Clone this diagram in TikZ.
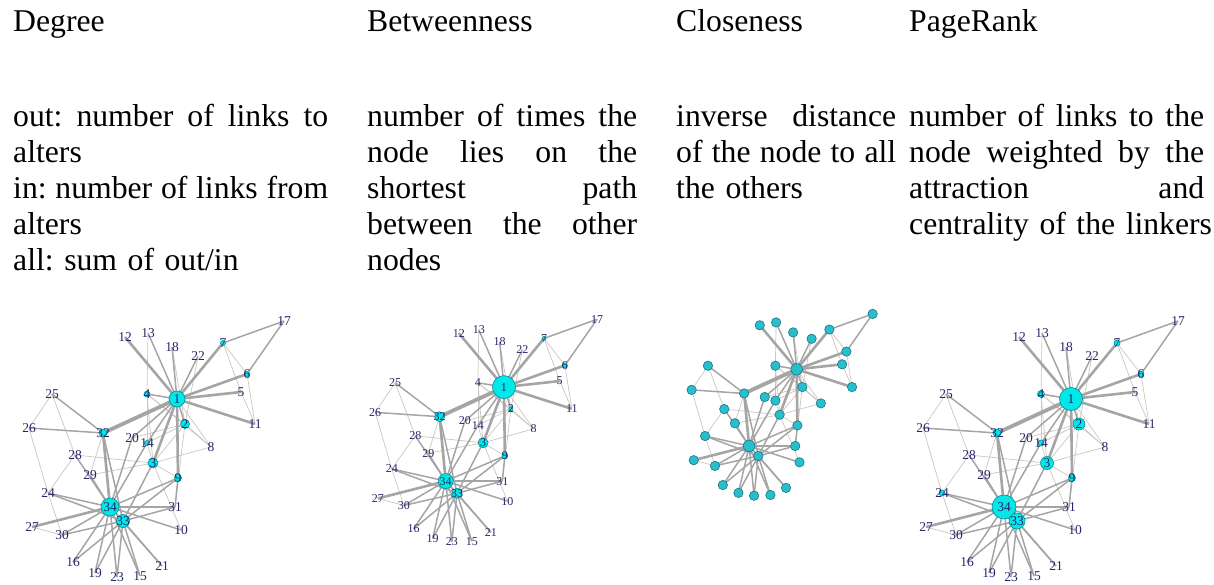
\documentclass[tikz,border=0pt]{standalone}
\usepackage{fontspec}
\setmainfont{Liberation Serif}
\frenchspacing
\hyphenpenalty=10000
\exhyphenpenalty=10000

\definecolor{tiegray}{RGB}{165,165,165}
\definecolor{faintgray}{RGB}{204,198,190}
\definecolor{numblue}{RGB}{38,38,105}
\definecolor{vcyan}{RGB}{0,232,232}
\definecolor{vrim}{RGB}{0,140,150}
\definecolor{ccyan}{RGB}{40,190,204}
\definecolor{crim}{RGB}{22,118,138}

% one justified line of a column, spaces spread to the full width
\newcommand\jl[2]{\leavevmode\hbox to #1{\spaceskip=0.25em plus 1fil\relax #2}}

% karate club layout, 34 members
\newcommand\karate[1]{%
  \coordinate (#1-1) at (177,399);
  \coordinate (#1-2) at (185,424);
  \coordinate (#1-3) at (153,463);
  \coordinate (#1-4) at (147,394);
  \coordinate (#1-5) at (241,392);
  \coordinate (#1-6) at (247,374);
  \coordinate (#1-7) at (223,343);
  \coordinate (#1-8) at (211,447);
  \coordinate (#1-9) at (178,478);
  \coordinate (#1-10) at (181,530);
  \coordinate (#1-11) at (255,424);
  \coordinate (#1-12) at (125,337);
  \coordinate (#1-13) at (148,333);
  \coordinate (#1-14) at (147,443);
  \coordinate (#1-15) at (140,576);
  \coordinate (#1-16) at (73,562);
  \coordinate (#1-17) at (284,321);
  \coordinate (#1-18) at (172,347);
  \coordinate (#1-19) at (95,573);
  \coordinate (#1-20) at (132,438);
  \coordinate (#1-21) at (162,566);
  \coordinate (#1-22) at (198,356);
  \coordinate (#1-23) at (117,577);
  \coordinate (#1-24) at (48,493);
  \coordinate (#1-25) at (52,394);
  \coordinate (#1-26) at (29,428);
  \coordinate (#1-27) at (32,527);
  \coordinate (#1-28) at (75,455);
  \coordinate (#1-29) at (90,475);
  \coordinate (#1-30) at (62,535);
  \coordinate (#1-31) at (175,507);
  \coordinate (#1-32) at (103,433);
  \coordinate (#1-33) at (123,521);
  \coordinate (#1-34) at (110,507);
}

% the 78 ties, faint ones first
\newcommand\karateties[1]{%
  \foreach \u/\v in {1/8,2/3,2/4,2/8,2/14,2/18,2/20,2/22,2/31,3/4,3/8,3/9,3/10,
      3/14,3/28,3/29,4/8,4/13,4/14,5/7,5/11,6/7,6/11,24/26,24/28,24/30,25/26,
      25/28,29/32,27/30}
    \draw[faintie] (#1-\u) -- (#1-\v);
  \foreach \u/\v in {1/2,1/4,1/13,1/14,1/18,1/20,1/22,6/17,7/17,9/31,9/33,9/34,
      10/34,14/34,15/33,15/34,16/33,16/34,19/33,19/34,20/34,21/33,21/34,23/33,
      23/34,24/33,24/34,25/32,26/32,28/34,29/34,30/33,30/34,31/33,31/34,32/33,
      33/34,3/33}
    \draw[tie] (#1-\u) -- (#1-\v);
  \foreach \u/\v in {1/3,1/5,1/6,1/7,1/9,1/11,1/12,27/34,32/34}
    \draw[heavytie] (#1-\u) -- (#1-\v);
  \draw[heavytie, line width=3.8pt] (#1-1) -- (#1-32);
}

% member numbers on top
\newcommand\karatenums[1]{%
  \foreach \n in {1,...,34}
    \node[num] (#1-n\n) at (#1-\n) {\n};
}

\tikzset{
  heading/.style={anchor=base west, inner sep=0pt, font=\fontsize{31.7}{36}\selectfont},
  desc/.style={anchor=base west, inner sep=0pt, align=left, font=\fontsize{31.7}{36}\selectfont},
  faintie/.style={draw=faintgray, line width=0.7pt},
  tie/.style={draw=tiegray, line width=1.5pt},
  heavytie/.style={draw=tiegray, line width=2.6pt},
  vertex/.style={circle, draw=vrim, fill=vcyan, line width=0.6pt, inner sep=0pt},
  cvertex/.style={circle, draw=crim, fill=ccyan, line width=0.6pt, inner sep=0pt},
  num/.style={font=\fontsize{13.5}{13.5}\selectfont, text=numblue, inner sep=0pt},
}

\begin{document}
\begin{tikzpicture}[x=1pt, y=-1pt]
  \useasboundingbox (0,0) rectangle (1214,585);

  % column headings
  \node[heading] (hdeg) at (13,32) {Degree};
  \node[heading] (hbet) at (367,32) {Betweenness};
  \node[heading] (hclo) at (676,32) {Closeness};
  \node[heading] (hpr) at (909,32) {PageRank};

  % definitions
  \node[desc, text width=315pt] (tdeg) at (13,127)
    {\jl{315pt}{out: number of links to}\\ \mbox{alters}\\
     \jl{315pt}{in: number of links from}\\ \mbox{alters}\\ \mbox{all: sum of out/in}};
  \node[desc, text width=270pt] (tbet) at (367,127)
    {\jl{270pt}{number of times the}\\ \jl{270pt}{node lies on the}\\
     \jl{270pt}{shortest path}\\ \jl{270pt}{between the other}\\ \mbox{nodes}};
  \node[desc, text width=220pt] (tclo) at (676,127)
    {\jl{220pt}{inverse distance}\\ \jl{220pt}{of the node to all}\\ \mbox{the others}};
  \node[desc, text width=295pt] (tpr) at (909,127)
    {\jl{295pt}{number of links to the}\\ \jl{295pt}{node weighted by the}\\
     \jl{295pt}{attraction and}\\ \mbox{centrality of the linkers}};

  % degree
  \begin{scope}
    \karate{d}
    \karateties{d}
    \foreach \n/\r in {34/9,1/8,33/6.5,3/5,2/4.5,32/4,9/3.5,4/3,14/2.5,7/2.5,6/2.5}
      \node[vertex, minimum size=2*\r pt] (d-v\n) at (d-\n) {};
    \karatenums{d}
  \end{scope}

  % betweenness
  \begin{scope}[shift={(350,40)}, scale=0.87]
    \karate{b}
    \karateties{b}
    \foreach \n/\r in {1/11.5,34/7.5,33/5,32/5,3/5,9/3,6/2.5,7/2,2/2}
      \node[vertex, minimum size=2*\r pt] (b-v\n) at (b-\n) {};
    \tikzset{num/.append style={font=\fontsize{12}{12}\selectfont}}
    \karatenums{b}
  \end{scope}

  % closeness
  \begin{scope}[shift={(671,86)}, scale=0.71]
    \karate{c}
    \karateties{c}
    \foreach \n in {1,...,34}
      \node[cvertex, minimum size=9.4pt] (c-v\n) at (c-\n) {};
    \foreach \n in {1,34}
      \node[cvertex, minimum size=11.6pt] (c-w\n) at (c-\n) {};
  \end{scope}

  % pagerank
  \begin{scope}[shift={(894,0)}]
    \karate{p}
    \karateties{p}
    \foreach \n/\r in {34/12,1/11.5,33/8,3/6.5,2/6,32/4,9/3.5,4/3.5,14/3,7/3,6/3,24/3}
      \node[vertex, minimum size=2*\r pt] (p-v\n) at (p-\n) {};
    \karatenums{p}
  \end{scope}
\end{tikzpicture}
\end{document}
